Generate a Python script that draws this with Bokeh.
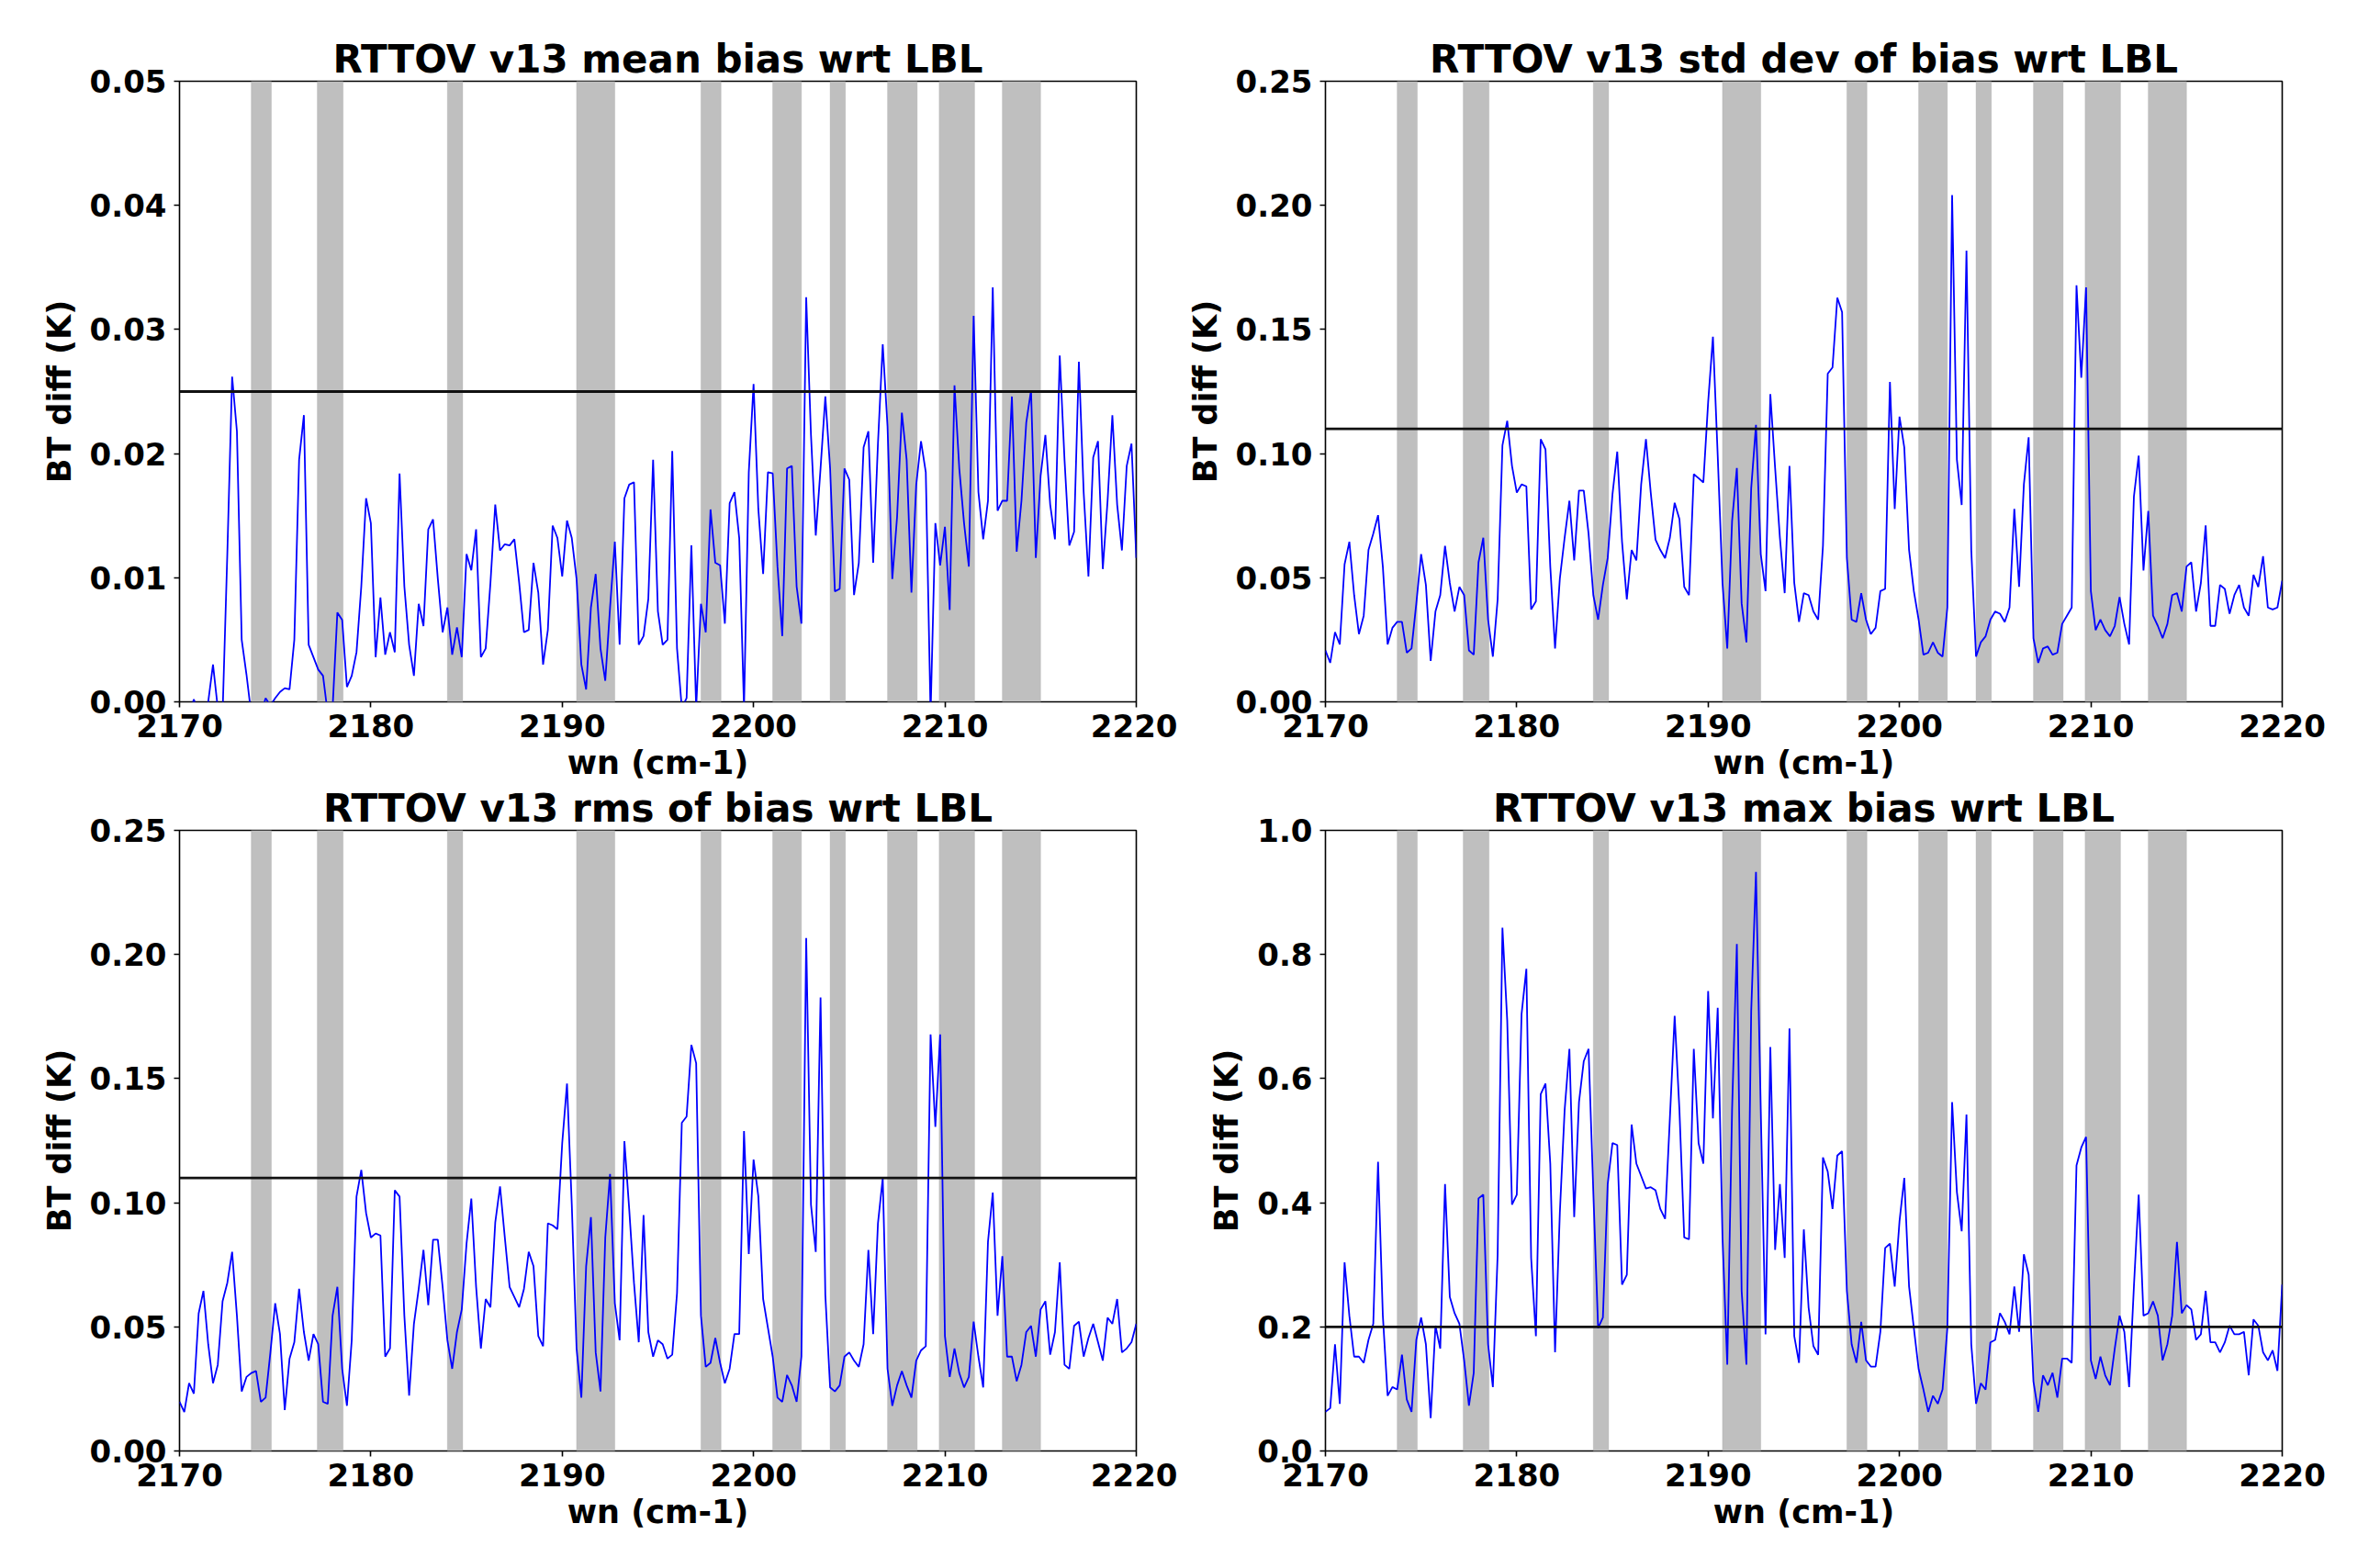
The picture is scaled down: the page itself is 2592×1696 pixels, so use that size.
from bokeh.plotting import figure
from bokeh.layouts import gridplot
from bokeh.models import Range1d, FixedTicker, PrintfTickFormatter, BoxAnnotation, Span
from bokeh.embed import file_html
from bokeh.resources import INLINE

# ---------------- data ----------------
WN_START = 2170.0
WN_STEP = 0.25

mean_bias = [
    -0.002, -0.002, -0.001, 0.0002, -0.001, -0.002, 0.0, 0.003, -0.0005, -0.001,
    0.012, 0.0262, 0.0218, 0.005, 0.0022, -0.001, -0.002, -0.001, 0.0003, -0.0003,
    0.0003, 0.0008, 0.0011, 0.001, 0.005, 0.0195, 0.0231, 0.0046, 0.0036, 0.0026,
    0.0021, -0.001, -0.0005, 0.0072, 0.0066, 0.0012, 0.0021, 0.004, 0.0093, 0.0164,
    0.0144, 0.0036, 0.0084, 0.0038, 0.0056, 0.004, 0.0184, 0.0093, 0.0046, 0.0021,
    0.0079, 0.0061, 0.0139, 0.0147, 0.0099, 0.0056, 0.0076, 0.0038, 0.006, 0.0036,
    0.0119, 0.0106, 0.0139, 0.0036, 0.0043, 0.0096, 0.0159, 0.0122, 0.0127, 0.0126,
    0.0131, 0.0096, 0.0056, 0.0058, 0.0112, 0.0088, 0.003, 0.0058, 0.0142, 0.0132,
    0.0101, 0.0146, 0.0132, 0.0099, 0.003, 0.001, 0.0076, 0.0103, 0.0043, 0.0017,
    0.0076, 0.0129, 0.0046, 0.0164, 0.0175, 0.0177, 0.0046, 0.0053, 0.0083, 0.0195,
    0.0073, 0.0046, 0.005, 0.0202, 0.0043, -0.0005, 0.0003, 0.0126, -0.0005, 0.0079,
    0.0056, 0.0155, 0.0112, 0.011, 0.0063, 0.016, 0.0169, 0.0132, -0.0005, 0.0185,
    0.0256, 0.0155, 0.0103, 0.0185, 0.0184, 0.0109, 0.0053, 0.0188, 0.019, 0.0093,
    0.0063, 0.0326, 0.0215, 0.0134, 0.0188, 0.0246, 0.0188, 0.0089, 0.0091, 0.0188,
    0.0179, 0.0086, 0.0112, 0.0205, 0.0218, 0.0112, 0.0208, 0.0288, 0.0222, 0.0099,
    0.0149, 0.0233, 0.0195, 0.0088, 0.0175, 0.021, 0.0185, -0.001, 0.0144, 0.011,
    0.0141, 0.0074, 0.0255, 0.0188, 0.0144, 0.0109, 0.0311, 0.0169, 0.0131, 0.0162,
    0.0334, 0.0154, 0.0162, 0.0162, 0.0246, 0.0121, 0.0162, 0.0225, 0.0251, 0.0116,
    0.0182, 0.0215, 0.0159, 0.0131, 0.0279, 0.0195, 0.0126, 0.0137, 0.0274, 0.0169,
    0.0101, 0.0197, 0.021, 0.0107, 0.0162, 0.0231, 0.0159, 0.0122, 0.019, 0.0208,
    0.0116,
]

std_bias = [
    0.0207, 0.0157, 0.0281, 0.0231, 0.0554, 0.0645, 0.043, 0.0273, 0.0347, 0.0612,
    0.0678, 0.0752, 0.0545, 0.0231, 0.0298, 0.0322, 0.0322, 0.0198, 0.0215, 0.0397,
    0.0595, 0.0471, 0.0165, 0.0364, 0.043, 0.0628, 0.0479, 0.0364, 0.0463, 0.043,
    0.0207, 0.019, 0.0562, 0.0661, 0.0331, 0.0182, 0.0413, 0.1033, 0.1132, 0.095,
    0.0843, 0.0876, 0.0868, 0.0372, 0.0405, 0.1058, 0.1017, 0.0545, 0.0215, 0.0496,
    0.0661, 0.081, 0.057, 0.0851, 0.0851, 0.0678, 0.043, 0.0331, 0.0471, 0.0579,
    0.0835, 0.1008, 0.0645, 0.0413, 0.0612, 0.057, 0.0876, 0.1058, 0.0843, 0.0653,
    0.0612, 0.0579, 0.0661, 0.0802, 0.0736, 0.0463, 0.043, 0.0917, 0.0901, 0.0884,
    0.1207, 0.1471, 0.0992, 0.0479, 0.0215, 0.0727, 0.0942, 0.0397, 0.024, 0.086,
    0.1116, 0.0595, 0.0446, 0.124, 0.0942, 0.0661, 0.0438, 0.095, 0.0479, 0.0322,
    0.0438, 0.043, 0.0364, 0.0331, 0.0628, 0.1322, 0.1347, 0.1628, 0.157, 0.0579,
    0.0331, 0.0322, 0.0438, 0.0331, 0.0273, 0.0298, 0.0446, 0.0455, 0.1289, 0.0777,
    0.1149, 0.1025, 0.0612, 0.0446, 0.0331, 0.019, 0.0198, 0.024, 0.0198, 0.0182,
    0.038, 0.2041, 0.0975, 0.0793, 0.1818, 0.0612, 0.0182, 0.024, 0.0264, 0.0331,
    0.0364, 0.0355, 0.0322, 0.038, 0.0777, 0.0463, 0.0876, 0.1066, 0.0256, 0.0157,
    0.0215, 0.0223, 0.019, 0.0198, 0.0314, 0.0347, 0.038, 0.1678, 0.1306, 0.167,
    0.0446, 0.0289, 0.0331, 0.0289, 0.0264, 0.0306, 0.0422, 0.0314, 0.0231, 0.0827,
    0.0992, 0.0529, 0.0769, 0.0347, 0.0306, 0.0256, 0.0314, 0.043, 0.0438, 0.0364,
    0.0545, 0.0562, 0.0364, 0.0479, 0.0711, 0.0306, 0.0306, 0.0471, 0.0455, 0.0355,
    0.043, 0.0471, 0.038, 0.0347, 0.0512, 0.0463, 0.0587, 0.038, 0.0372, 0.038,
    0.0488,
]

rms_bias = [
    0.0198, 0.0157, 0.0273, 0.0231, 0.0554, 0.0645, 0.043, 0.0273, 0.0347, 0.0603,
    0.0678, 0.0802, 0.0545, 0.024, 0.0298, 0.0314, 0.0322, 0.0198, 0.0215, 0.0397,
    0.0595, 0.0471, 0.0165, 0.0372, 0.0438, 0.0653, 0.0479, 0.0364, 0.0471, 0.043,
    0.0198, 0.019, 0.0545, 0.0661, 0.0331, 0.0182, 0.0446, 0.1025, 0.1132, 0.0959,
    0.086, 0.0876, 0.0868, 0.038, 0.0413, 0.105, 0.1025, 0.0545, 0.0223, 0.0512,
    0.0653, 0.081, 0.0587, 0.0851, 0.0851, 0.0661, 0.0446, 0.0331, 0.0479, 0.057,
    0.0835, 0.1017, 0.0661, 0.0413, 0.0612, 0.0579, 0.092, 0.1066, 0.086, 0.0661,
    0.062, 0.0579, 0.0653, 0.0802, 0.0744, 0.0463, 0.0422, 0.0917, 0.0909, 0.0893,
    0.124, 0.148, 0.0992, 0.0413, 0.0215, 0.0744, 0.0942, 0.0397, 0.024, 0.086,
    0.1116, 0.0595, 0.0446, 0.1248, 0.0975, 0.0678, 0.0438, 0.095, 0.0479, 0.038,
    0.0446, 0.043, 0.0372, 0.0388, 0.0636, 0.1322, 0.1347, 0.1636, 0.1562, 0.0545,
    0.0339, 0.0355, 0.0455, 0.0355, 0.0273, 0.0331, 0.0471, 0.0471, 0.1289, 0.0793,
    0.1174, 0.1025, 0.0612, 0.0496, 0.038, 0.0215, 0.0198, 0.0306, 0.0264, 0.0198,
    0.038, 0.2066, 0.0992, 0.0802, 0.1827, 0.0628, 0.0256, 0.024, 0.0264, 0.038,
    0.0397, 0.0364, 0.0339, 0.043, 0.081, 0.0471, 0.0917, 0.1099, 0.0331, 0.0182,
    0.0264, 0.0322, 0.0264, 0.0215, 0.0364, 0.0405, 0.0422, 0.1678, 0.1306, 0.1678,
    0.0463, 0.0298, 0.0413, 0.0314, 0.0256, 0.0298, 0.0521, 0.038, 0.0256, 0.0843,
    0.1041, 0.0545, 0.0785, 0.038, 0.038, 0.0281, 0.0347, 0.0479, 0.0504, 0.038,
    0.057, 0.0603, 0.0388, 0.0479, 0.076, 0.0347, 0.0331, 0.0504, 0.0521, 0.038,
    0.0455, 0.0512, 0.0438, 0.0364, 0.0537, 0.0512, 0.0612, 0.0397, 0.0413, 0.0438,
    0.0512,
]

max_bias = [
    0.063, 0.069, 0.172, 0.076, 0.304, 0.218, 0.152, 0.152, 0.142, 0.179,
    0.205, 0.466, 0.218, 0.089, 0.103, 0.099, 0.155, 0.083, 0.063, 0.179,
    0.215, 0.172, 0.053, 0.202, 0.165, 0.43, 0.248, 0.222, 0.205, 0.146,
    0.073, 0.126, 0.407, 0.413, 0.172, 0.103, 0.317, 0.843, 0.694, 0.397,
    0.413, 0.704, 0.777, 0.311, 0.185, 0.575, 0.592, 0.463, 0.159, 0.384,
    0.549, 0.648, 0.377, 0.562, 0.628, 0.648, 0.417, 0.198, 0.215, 0.43,
    0.496, 0.493, 0.268, 0.284, 0.526, 0.463, 0.443, 0.423, 0.425, 0.42,
    0.39, 0.374, 0.536, 0.701, 0.549, 0.344, 0.341, 0.648, 0.496, 0.463,
    0.741, 0.536, 0.714, 0.344, 0.139, 0.549, 0.817, 0.258, 0.139, 0.708,
    0.933, 0.549, 0.188, 0.651, 0.324, 0.43, 0.311, 0.681, 0.185, 0.142,
    0.357, 0.231, 0.169, 0.155, 0.473, 0.45, 0.39, 0.476, 0.483, 0.258,
    0.172, 0.142, 0.208, 0.146, 0.136, 0.136, 0.192, 0.327, 0.334, 0.265,
    0.37, 0.44, 0.265, 0.198, 0.132, 0.099, 0.063, 0.089, 0.076, 0.099,
    0.198, 0.562, 0.417, 0.354, 0.542, 0.172, 0.076, 0.109, 0.099, 0.175,
    0.179, 0.222, 0.208, 0.188, 0.265, 0.192, 0.317, 0.284, 0.112, 0.063,
    0.122, 0.106, 0.126, 0.086, 0.149, 0.149, 0.142, 0.46, 0.489, 0.506,
    0.146, 0.116, 0.152, 0.122, 0.106, 0.165, 0.218, 0.192, 0.103, 0.265,
    0.413, 0.218, 0.222, 0.241, 0.218, 0.146, 0.172, 0.218, 0.337, 0.222,
    0.235, 0.228, 0.179, 0.188, 0.258, 0.175, 0.175, 0.159, 0.175, 0.202,
    0.188, 0.188, 0.192, 0.122, 0.212, 0.202, 0.159, 0.146, 0.162, 0.129,
    0.268,
]

# shaded wavenumber bands
band_start = [2173.75, 2177.2, 2184.0, 2190.75, 2197.25, 2201.0, 2204.0, 2207.0, 2209.7, 2213.0]
band_end = [2174.8, 2178.55, 2184.8, 2192.75, 2198.3, 2202.5, 2204.8, 2208.55, 2211.55, 2215.0]

x_ticks = [2170, 2180, 2190, 2200, 2210, 2220]
mean_ticks = [0.0, 0.01, 0.02, 0.03, 0.04, 0.05]
std_ticks = [0.0, 0.05, 0.10, 0.15, 0.20, 0.25]
max_ticks = [0.0, 0.2, 0.4, 0.6, 0.8, 1.0]

titles = ["RTTOV v13 mean bias wrt LBL", "RTTOV v13 std dev of bias wrt LBL",
          "RTTOV v13 rms of bias wrt LBL", "RTTOV v13 max bias wrt LBL"]
ref_levels = [0.025, 0.11, 0.11, 0.2]

wn = [WN_START + WN_STEP * i for i in range(len(mean_bias))]

FONT = "DejaVu Sans"


def make_panel(title, vals, ticks, fmt, ref, bl, br, bt, bb):
    p = figure(frame_width=1042, frame_height=676,
               x_range=Range1d(x_ticks[0], x_ticks[-1]),
               y_range=Range1d(ticks[0], ticks[-1]),
               output_backend="svg", toolbar_location=None,
               min_border_left=bl, min_border_right=br,
               min_border_top=bt, min_border_bottom=bb,
               background_fill_color="white", border_fill_color="white")
    p.title.text = title
    p.title.align = "center"
    p.title.text_font = FONT
    p.title.text_font_size = "42px"
    p.title.text_font_style = "bold"
    p.title.text_color = "black"
    p.title.standoff = 0

    p.xgrid.visible = False
    p.ygrid.visible = False
    p.outline_line_color = "black"
    p.outline_line_width = 1.6

    for ax in (p.xaxis[0], p.yaxis[0]):
        ax.axis_line_color = None
        ax.major_tick_in = 0
        ax.major_tick_out = 6
        ax.major_tick_line_width = 1.6
        ax.major_tick_line_color = "black"
        ax.minor_tick_in = 0
        ax.minor_tick_out = 0
        ax.major_label_text_font = FONT
        ax.major_label_text_font_size = "34px"
        ax.major_label_text_font_style = "bold"
        ax.major_label_text_color = "black"
        ax.axis_label_text_font = FONT
        ax.axis_label_text_font_size = "35px"
        ax.axis_label_text_font_style = "bold"
        ax.axis_label_text_color = "black"

    p.xaxis.ticker = FixedTicker(ticks=x_ticks)
    p.xaxis.formatter = PrintfTickFormatter(format="%d")
    p.xaxis.axis_label = "wn (cm-1)"
    p.xaxis.major_label_standoff = 7
    p.xaxis.axis_label_standoff = 5

    p.yaxis.ticker = FixedTicker(ticks=ticks)
    p.yaxis.formatter = PrintfTickFormatter(format=fmt)
    p.yaxis.axis_label = "BT diff (K)"
    p.yaxis.major_label_standoff = 8
    p.yaxis.axis_label_standoff = 10

    for a, b in zip(band_start, band_end):
        p.add_layout(BoxAnnotation(left=a, right=b, fill_color="#bfbfbf", fill_alpha=1.0,
                                   line_color="#a6a6a6", line_width=1, level="underlay"))

    p.line(wn, vals, line_color="blue", line_width=1.8)
    p.add_layout(Span(location=ref, dimension="width", line_color="#111111", line_width=2.8))
    return p


p1 = make_panel(titles[0], mean_bias, mean_ticks, "%.2f", ref_levels[0], 195, 45, 88, 0)
p2 = make_panel(titles[1], std_bias, std_ticks, "%.2f", ref_levels[1], 161, 60, 88, 0)
p3 = make_panel(titles[2], rms_bias, std_ticks, "%.2f", ref_levels[2], 195, 45, 0, 0)
p4 = make_panel(titles[3], max_bias, max_ticks, "%.1f", ref_levels[3], 161, 60, 0, 0)

grid = gridplot([[p1, p2], [p3, p4]], toolbar_location=None)

open("out.html", "w").write(file_html(grid, INLINE, title="RTTOV v13 bias wrt LBL"))
